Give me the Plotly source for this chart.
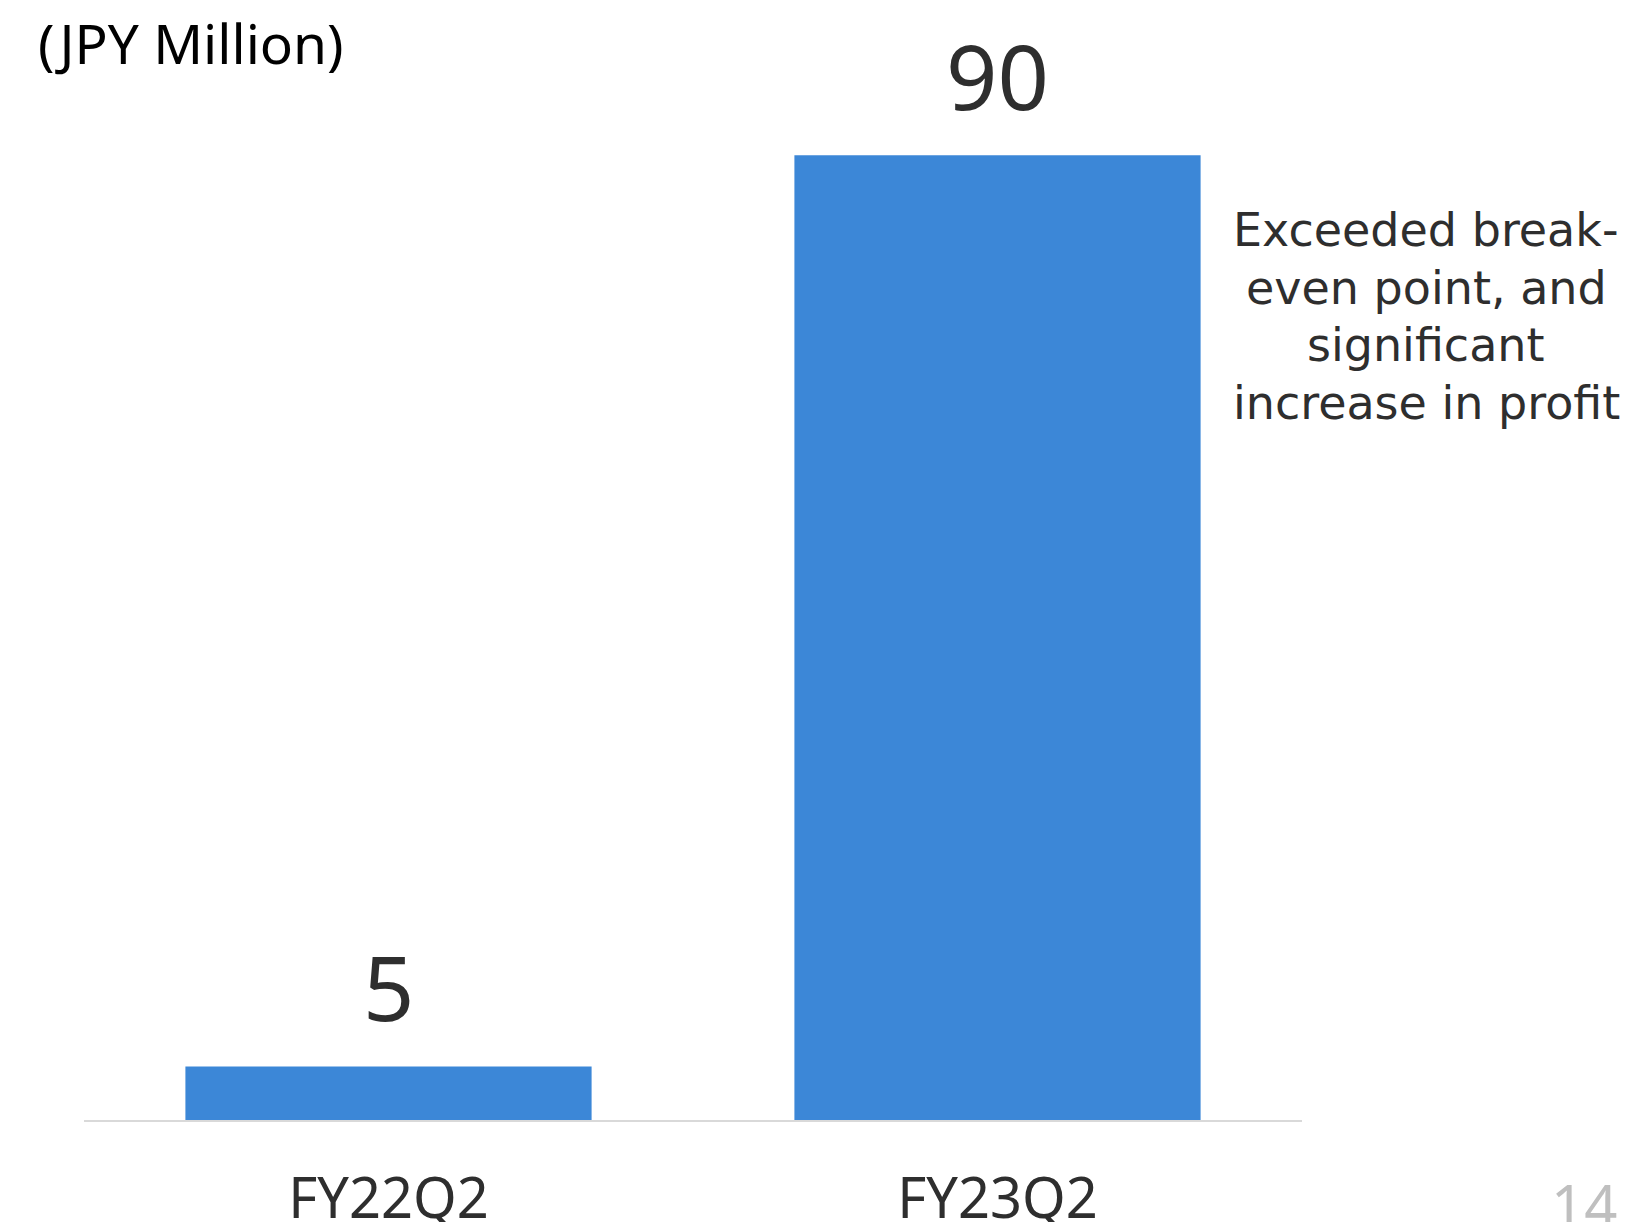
import plotly.graph_objects as go

categories = ["FY22Q2", "FY23Q2"]
values = [5, 90]
value_labels = ["5", "90"]
unit_label = "(JPY Million)"
note_lines = ["Exceeded break-", "even point, and", "significant", "increase in profit"]
page_number = "14"

W, H = 1649, 1222
L, R, T, B = 84, 347, 48, 102
plot_h = H - T - B
plot_w = W - L - R

def px(xp):
    return (xp - L) / plot_w

def py(yp):
    return (H - B - yp) / plot_h

BAR = "#3C87D7"
TXT = "#2E2E2E"
FONT = "Noto Sans"
NOTE_FONT = "DejaVu Sans"

fig = go.Figure()
fig.add_trace(go.Bar(
    x=categories, y=values,
    marker=dict(color=BAR, line=dict(width=0)),
    hoverinfo="skip",
))

annotations = []
for c, v, t in zip(categories, values, value_labels):
    annotations.append(dict(
        x=c, y=v, xref="x", yref="y", text=t, showarrow=False,
        yanchor="bottom", yshift=17,
        font=dict(family=FONT, size=90, color=TXT),
    ))

annotations.append(dict(
    x=px(36), y=py(43), xref="paper", yref="paper", text=unit_label,
    showarrow=False, xanchor="left", yanchor="middle",
    font=dict(family=FONT, size=55, color="#000000"),
))

line_centers = [230, 288, 345, 403]
for ln, yc in zip(note_lines, line_centers):
    annotations.append(dict(
        x=px(1426), y=py(yc), xref="paper", yref="paper", text=ln,
        showarrow=False, xanchor="center", yanchor="middle",
        font=dict(family=NOTE_FONT, size=46, color=TXT),
    ))

annotations.append(dict(
    x=px(1584), y=py(1204), xref="paper", yref="paper", text=page_number,
    showarrow=False, xanchor="center", yanchor="middle",
    font=dict(family=FONT, size=58, color="#BFBFBF"),
))

fig.update_layout(
    width=W, height=H,
    margin=dict(l=L, r=R, t=T, b=B, pad=0, autoexpand=False),
    paper_bgcolor="white", plot_bgcolor="white",
    bargap=0.333,
    showlegend=False,
    annotations=annotations,
    font=dict(family=FONT, color=TXT),
)
fig.update_xaxes(
    showline=True, linecolor="#D9D9D9", linewidth=1.5,
    showgrid=False, zeroline=False, ticks="",
    tickfont=dict(family=FONT, size=56, color=TXT),
    ticklabelstandoff=29, automargin=False,
)
fig.update_yaxes(
    range=[0, 100], visible=False, showgrid=False, zeroline=False,
    automargin=False,
)

fig.write_html("out.html")
